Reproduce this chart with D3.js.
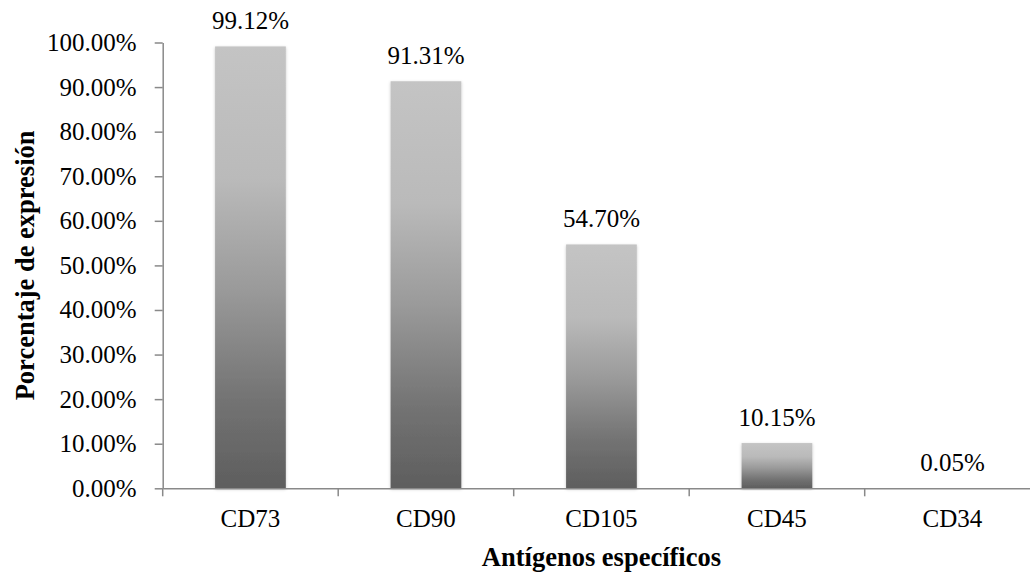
<!DOCTYPE html>
<html>
<head>
<meta charset="utf-8">
<script src="https://cdn.jsdelivr.net/npm/d3@7"></script>
<style>
  body { margin: 0; background: #fff; }
  svg { display: block; font-family: "Times New Roman", "Liberation Serif", serif; }
</style>
</head>
<body>
<div id="main"></div>
<script>
var ctx = {
    w: 1030,
    h: 575,
    left: 162.7,
    step: 175.5,
    top: 42.5,
    bottom: 488.3,
};

// data
var categories = ["CD73", "CD90", "CD105", "CD45", "CD34"];
var values = [99.12, 91.31, 54.70, 10.15, 0.05];
var yTicks = [0, 10, 20, 30, 40, 50, 60, 70, 80, 90, 100];

var axisColor = "#898989";

var svg = d3.select("#main").append("svg")
    .attr("width", ctx.w)
    .attr("height", ctx.h);

var defs = svg.append("defs");

// per-bar vertical gradient, light on top
var grad = defs.append("linearGradient")
    .attr("id", "barGrad")
    .attr("x1", 0).attr("y1", 0)
    .attr("x2", 0).attr("y2", 1);
[[0, "#c4c4c4"], [0.3, "#bababa"], [0.55, "#9a9a9a"], [0.8, "#737373"], [1, "#5e5e5e"]]
    .forEach(function (s) {
        grad.append("stop").attr("offset", s[0]).attr("stop-color", s[1]);
    });

var shadow = defs.append("filter")
    .attr("id", "shadow")
    .attr("x", "-20%").attr("y", "-5%")
    .attr("width", "140%").attr("height", "110%");
shadow.append("feDropShadow")
    .attr("dx", 0).attr("dy", 1)
    .attr("stdDeviation", 1.6)
    .attr("flood-color", "#000")
    .attr("flood-opacity", 0.22);

var x = d3.scaleBand()
    .domain(categories)
    .range([ctx.left, ctx.left + ctx.step * categories.length])
    .paddingInner(0.597)
    .paddingOuter(0.2985);

var y = d3.scaleLinear()
    .domain([0, 100])
    .range([ctx.bottom, ctx.top]);

/* bars */
var data = categories.map((c, i) => ({ cat: c, val: values[i] }));

svg.append("g")
    .selectAll("rect")
    .data(data.filter((d) => y(0) - y(d.val) > 0.5))
    .enter()
    .append("rect")
    .attr("x", (d) => x(d.cat))
    .attr("y", (d) => y(d.val))
    .attr("width", x.bandwidth())
    .attr("height", (d) => y(0) - y(d.val))
    .attr("fill", "url(#barGrad)")
    .attr("filter", "url(#shadow)");

/* y axis */
var yAxis = svg.append("g")
    .attr("transform", `translate(${ctx.left},0)`)
    .call(d3.axisLeft(y)
        .tickValues(yTicks)
        .tickSize(8)
        .tickSizeOuter(0)
        .tickPadding(18)
        .tickFormat((d) => d3.format(".2f")(d) + "%"))
    .attr("font-family", null)
    .attr("font-size", 25);

yAxis.selectAll("path, line").attr("stroke", axisColor).attr("stroke-width", 1.5);
yAxis.selectAll("text").attr("fill", "#000");

/* x axis: labels centred in band, ticks on band edges */
var xAxis = svg.append("g")
    .attr("transform", `translate(0,${ctx.bottom})`)
    .call(d3.axisBottom(x).tickSize(0).tickSizeOuter(0).tickPadding(21))
    .attr("font-family", null)
    .attr("font-size", 25);

xAxis.select("path").attr("stroke", axisColor).attr("stroke-width", 1.5);
xAxis.selectAll("text").attr("fill", "#000");

var edges = categories.map((c) => x(c) - x.step() * x.paddingInner() / 2)
    .concat([x.range()[1]]);

xAxis.selectAll(".edge")
    .data(edges)
    .enter()
    .append("line")
    .attr("class", "edge")
    .attr("x1", (d) => d).attr("x2", (d) => d)
    .attr("y1", 0).attr("y2", 8)
    .attr("stroke", axisColor)
    .attr("stroke-width", 1.5);

/* value labels */
svg.append("g")
    .selectAll("text")
    .data(data)
    .enter()
    .append("text")
    .attr("x", (d) => x(d.cat) + x.bandwidth() / 2)
    .attr("y", (d) => y(d.val) - 17)
    .attr("text-anchor", "middle")
    .attr("font-size", 25)
    .text((d) => d3.format(".2f")(d.val) + "%");

/* axis titles */
svg.append("text")
    .attr("x", (ctx.left + ctx.left + ctx.step * categories.length) / 2)
    .attr("y", 566)
    .attr("text-anchor", "middle")
    .attr("font-size", 26.5)
    .attr("font-weight", "bold")
    .text("Antígenos específicos");

svg.append("text")
    .attr("transform", `translate(34,${(ctx.top + ctx.bottom) / 2}) rotate(-90)`)
    .attr("text-anchor", "middle")
    .attr("font-size", 26.5)
    .attr("font-weight", "bold")
    .text("Porcentaje de expresión");
</script>
</body>
</html>
